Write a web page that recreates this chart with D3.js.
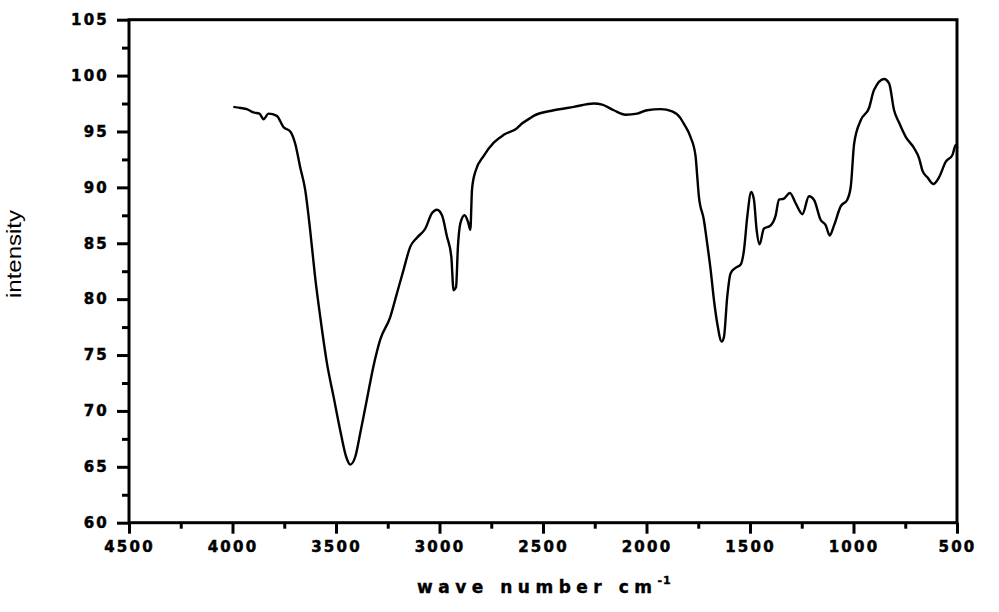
<!DOCTYPE html>
<html>
<head>
<meta charset="utf-8">
<script src="https://cdn.jsdelivr.net/npm/d3@7/dist/d3.min.js"></script>
<style>
  html, body { margin: 0; padding: 0; background: #fff; }
  svg { display: block; }
</style>
</head>
<body>
<svg id="chart" width="999" height="612"></svg>
<script>
// ---- data ----
const wavenumber = [3996,3960,3931,3899,3870,3850,3826,3786,3754,3721,3697,3673,3649,3625,3601,3576,3544,3512,3480,3451,3431,3407,3383,3351,3319,3286,3238,3206,3174,3141,3109,3069,3036,3012,2988,2964,2943,2932,2920,2911,2899,2879,2862,2851,2843,2827,2787,2738,2690,2625,2609,2561,2545,2448,2351,2255,2214,2158,2101,2045,1997,1932,1876,1836,1820,1787,1763,1755,1747,1723,1707,1690,1674,1658,1637,1626,1610,1594,1570,1545,1529,1513,1494,1481,1468,1454,1433,1400,1376,1360,1336,1307,1280,1247,1215,1191,1159,1134,1115,1094,1062,1030,1013,997,965,925,901,852,828,804,780,747,707,683,667,643,614,587,554,522,506,498];
const intensity  = [97.2,97.1,97.0,96.7,96.6,96.1,96.6,96.4,95.4,95.0,93.9,91.8,89.8,86.2,82.0,78.4,74.3,71.3,68.3,65.9,65.2,65.9,68.0,71.0,74.0,76.4,78.4,80.5,82.6,84.7,85.5,86.3,87.7,88.0,87.5,85.6,83.8,80.8,81.1,84.7,86.8,87.5,86.9,86.2,89.8,91.4,92.8,94.0,94.7,95.3,95.6,96.2,96.4,96.9,97.2,97.5,97.4,96.9,96.5,96.6,96.9,97.0,96.8,96.2,95.7,94.5,92.8,91.0,89.2,87.1,85.0,82.6,79.9,77.8,76.2,76.6,80.2,82.3,82.8,83.1,84.4,87.4,89.6,88.9,86.2,84.9,86.3,86.6,87.5,88.9,89.0,89.5,88.6,87.6,89.2,88.9,87.1,86.6,85.7,86.6,88.3,88.9,90.1,93.9,96.0,97.1,98.7,99.7,99.3,96.9,95.8,94.5,93.5,92.6,91.5,90.9,90.3,90.9,92.3,92.9,93.8,93.5];
const xTicks = [4500,4000,3500,3000,2500,2000,1500,1000,500];
const yTicks = [60,65,70,75,80,85,90,95,100,105];
const xTitle = "wave number cm";
const xTitleSup = "-1";
const yTitle = "intensity";

// ---- layout ----
const L = 129, R = 957, T = 19.7, B = 522.7;
const svg = d3.select("#chart");
const x = d3.scaleLinear().domain([4500, 500]).range([L, R]);
const y = d3.scaleLinear().domain([60, 105]).range([B, T]);

const tickFont = "'DejaVu Sans', sans-serif";

// minor ticks
const yMinor = d3.range(62.5, 105, 5);
const xMinor = d3.range(4250, 500, -500);

function styleLabels(sel) {
  sel.attr("font-family", tickFont).attr("font-weight", "bold")
    .attr("font-size", 15).attr("letter-spacing", "2.2px").attr("fill", "#000")
    .attr("stroke", "#000").attr("stroke-width", 0.5);
}

// Y axis
const yAxis = d3.axisLeft(y).tickValues(yTicks).tickSize(12).tickPadding(8).tickFormat(d3.format("d"));
const gy = svg.append("g").attr("transform", `translate(${L},0)`).call(yAxis);
gy.select(".domain").remove();
gy.selectAll(".tick line").attr("stroke", "#000").attr("stroke-width", 3);
styleLabels(gy.selectAll(".tick text"));
const yAxisMinor = d3.axisLeft(y).tickValues(yMinor).tickSize(7).tickFormat("");
const gym = svg.append("g").attr("transform", `translate(${L},0)`).call(yAxisMinor);
gym.select(".domain").remove();
gym.selectAll(".tick line").attr("stroke", "#000").attr("stroke-width", 3);

// X axis
const xAxis = d3.axisBottom(x).tickValues(xTicks).tickSize(11).tickPadding(8).tickFormat(d3.format("d"));
const gx = svg.append("g").attr("transform", `translate(0,${B})`).call(xAxis);
gx.select(".domain").remove();
gx.selectAll(".tick line").attr("stroke", "#000").attr("stroke-width", 3);
styleLabels(gx.selectAll(".tick text"));
const xAxisMinor = d3.axisBottom(x).tickValues(xMinor).tickSize(6).tickFormat("");
const gxm = svg.append("g").attr("transform", `translate(0,${B})`).call(xAxisMinor);
gxm.select(".domain").remove();
gxm.selectAll(".tick line").attr("stroke", "#000").attr("stroke-width", 3);

// frame
svg.append("rect")
  .attr("x", L).attr("y", T).attr("width", R - L).attr("height", B - T)
  .attr("fill", "none").attr("stroke", "#000").attr("stroke-width", 3);

// spectrum line
const pts = wavenumber.map((w, i) => [w, intensity[i]]);
const line = d3.line().x(d => x(d[0])).y(d => y(d[1])).curve(d3.curveMonotoneX);
svg.append("path").datum(pts)
  .attr("d", line).attr("fill", "none")
  .attr("stroke", "#000").attr("stroke-width", 2.4).attr("stroke-linejoin", "round");

// titles
const xt = svg.append("text")
  .attr("x", 417).attr("y", 593)
  .attr("font-family", tickFont).attr("font-weight", "bold")
  .attr("font-size", 17).attr("letter-spacing", "5.5px").attr("fill", "#000")
  .attr("stroke", "#000").attr("stroke-width", 0.4)
  .text(xTitle);
xt.append("tspan").attr("font-size", 11).attr("dy", -9).attr("letter-spacing", "1px").text(xTitleSup);

svg.append("text")
  .attr("transform", "translate(21,254) rotate(-90)")
  .attr("text-anchor", "middle")
  .attr("font-family", "'Liberation Sans', Arial, sans-serif")
  .attr("font-size", 21)
  .attr("textLength", 88).attr("lengthAdjust", "spacingAndGlyphs")
  .attr("fill", "#000")
  .text(yTitle);
</script>
</body>
</html>
